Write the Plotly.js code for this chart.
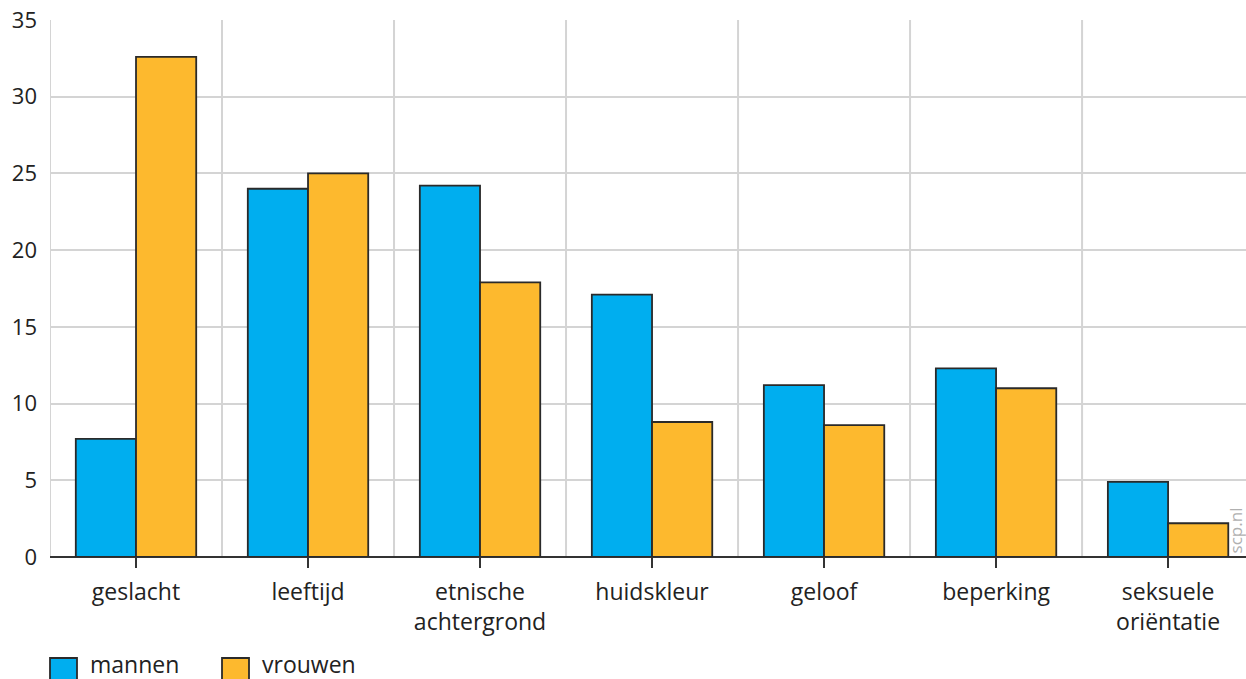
<!DOCTYPE html>
<html>
<head>
<meta charset="utf-8">
<script src="https://cdn.plot.ly/plotly-3.0.1.min.js"></script>
<style>html,body{margin:0;padding:0;background:#fff}#chart{width:1246px;height:679px}</style>
</head>
<body>
<div id="chart"></div>
<script>
const categories = ["geslacht", "leeftijd", "etnische<br>achtergrond", "huidskleur", "geloof", "beperking", "seksuele<br>oriëntatie"];
const seriesNames = ["mannen", "vrouwen"];
const mannen = [7.7, 24.0, 24.2, 17.1, 11.2, 12.3, 4.9];
const vrouwen = [32.6, 25.0, 17.9, 8.8, 8.6, 11.0, 2.2];
const yTicks = [0, 5, 10, 15, 20, 25, 30, 35];
const colors = ["#00AEEF", "#FDB92E"];
const watermark = "scp.nl";

const FONT = "Open Sans, Noto Sans, sans-serif";
const idx = categories.map((c, i) => i);

const traces = [mannen, vrouwen].map((vals, k) => ({
  type: "bar",
  name: seriesNames[k],
  x: idx,
  y: vals,
  marker: {color: colors[k], line: {color: "#2a2a2a", width: 1.8}},
  showlegend: false,
  hoverinfo: "x+y"
}));

// vertical grid lines at category boundaries
const shapes = [];
for (let i = 0; i <= categories.length; i++) {
  shapes.push({type: "line", xref: "x", yref: "paper", x0: i - 0.5, x1: i - 0.5, y0: 0, y1: 1,
    line: {color: "#d4d4d4", width: 2}, layer: "below"});
}
// legend boxes
const annotations = [];
const legendX = [0, 172];
seriesNames.forEach((n, k) => {
  shapes.push({type: "rect", xref: "paper", yref: "paper",
    x0: legendX[k] / 1196, x1: (legendX[k] + 27) / 1196,
    y0: -(658 - 557 + 22) / 537, y1: -(658 - 557) / 537,
    fillcolor: colors[k], line: {color: "#2a2a2a", width: 1.8}});
  annotations.push({xref: "paper", yref: "paper", x: (legendX[k] + 38) / 1196, y: -(664 - 557) / 537,
    xanchor: "left", yanchor: "middle", showarrow: false, text: n,
    font: {family: FONT, size: 23, color: "#222"}});
});
annotations.push({xref: "paper", yref: "paper", x: 1 - 11 / 1196, y: 0.003, xanchor: "center", yanchor: "bottom",
  textangle: -90, showarrow: false, text: watermark, font: {family: FONT, size: 17, color: "#b0b0b0"}});

const layout = {
  width: 1246, height: 679,
  margin: {l: 50, r: 0, t: 20, b: 122},
  paper_bgcolor: "#fff", plot_bgcolor: "#fff",
  barmode: "group", bargap: 0.30, bargroupgap: 0,
  xaxis: {
    type: "linear", range: [-0.5, 6.453],
    tickvals: idx, ticktext: categories,
    showgrid: false, zeroline: false,
    ticks: "outside", ticklen: 10, tickwidth: 1.5, tickcolor: "#333",
    tickfont: {family: FONT, size: 23, color: "#222"},
    ticklabelstandoff: 4,
    showline: false, fixedrange: true
  },
  yaxis: {
    range: [0, 35], tickvals: yTicks, ticktext: yTicks.map(String),
    showgrid: true, gridcolor: "#d4d4d4", gridwidth: 2,
    zeroline: true, zerolinecolor: "#333", zerolinewidth: 2,
    ticks: "", tickfont: {family: FONT, size: 22, color: "#222"},
    ticklabelstandoff: 12, showline: false, fixedrange: true
  },
  shapes: shapes,
  annotations: annotations,
  showlegend: false
};

Plotly.newPlot("chart", traces, layout, {displayModeBar: false, staticPlot: true});
</script>
</body>
</html>
